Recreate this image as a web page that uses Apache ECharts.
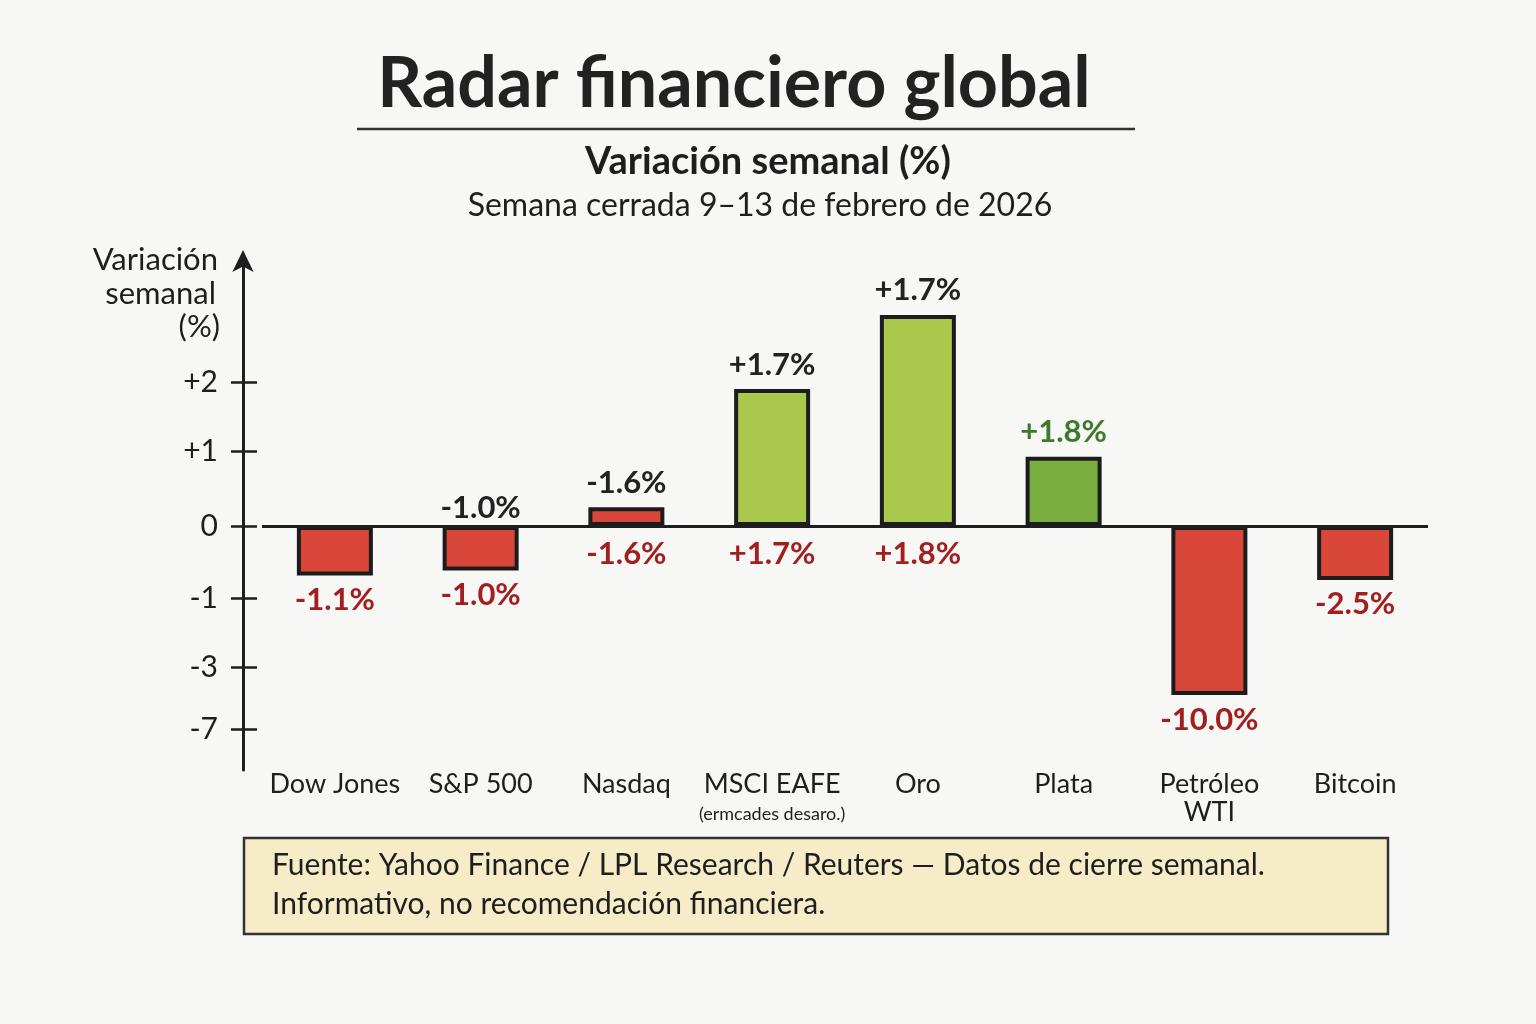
<!DOCTYPE html>
<html><head><meta charset="utf-8">
<script src="https://cdn.jsdelivr.net/npm/echarts@6/dist/echarts.min.js"></script>
<style>html,body{margin:0;padding:0;background:#f7f7f5;}#c{width:1536px;height:1024px;}</style>
</head><body><div id="c"></div>
<script>
// categories
const categories = ['Dow Jones', 'S&P 500', 'Nasdaq', 'MSCI EAFE', 'Oro', 'Plata', 'Petróleo\nWTI', 'Bitcoin'];
const categoryNotes = ['', '', '', '(ermcades desaro.)', '', '', '', ''];
// bar heights as drawn on the (hand-drawn) vertical scale
const barHeights = [-0.69, -0.62, 0.26, 1.90, 2.93, 0.96, -2.35, -0.75];
// labels written above / below each bar
const topLabels = ['', '-1.0%', '-1.6%', '+1.7%', '+1.7%', '+1.8%', '', ''];
const bottomLabels = ['-1.1%', '-1.0%', '-1.6%', '+1.7%', '+1.8%', '', '-10.0%', '-2.5%'];
// y-axis ticks: positions on the drawn scale and their printed labels
const tickPositions = [2, 1.03, 0, -1.0, -1.97, -2.83];
const tickLabels = ['+2', '+1', '0', '-1', '-3', '-7'];
// bar colour groups
const barColors = ['#d8473a', '#d8473a', '#d8473a', '#a9c84c', '#a9c84c', '#79ae3f', '#d8473a', '#d8473a'];
const topLabelColors = ['#222', '#222', '#222', '#222', '#222', '#3f7a2c', '#222', '#222'];

const FONT = 'Lato';
const RED_TXT = '#a21f1f';
const chart = echarts.init(document.getElementById('c'));

const barData = barHeights.map((v, i) => {
  const pos = v >= 0;
  const txt = pos ? topLabels[i] : bottomLabels[i];
  return {
    value: v,
    itemStyle: { color: barColors[i] },
    label: {
      show: !!txt, position: pos ? 'top' : 'bottom', distance: pos ? 9 : 9,
      formatter: txt, color: pos ? topLabelColors[i] : RED_TXT
    }
  };
});
// extra labels that sit on the zero line, on the side opposite to the bar
const extraData = barHeights.map((v, i) => {
  if (v >= 0 && bottomLabels[i]) return { value: 0, label: { show: true, position: 'bottom', distance: 13, formatter: bottomLabels[i], color: RED_TXT } };
  if (v < 0 && topLabels[i]) return { value: 0, label: { show: true, position: 'top', distance: 2, formatter: topLabels[i], color: '#222' } };
  return { value: 0, label: { show: false } };
});

const labelStyle = { fontFamily: FONT, fontSize: 31, fontWeight: 'bold' };

chart.setOption({
  backgroundColor: '#f7f7f5',
  textStyle: { fontFamily: FONT },
  grid: { left: 262, right: 108, top: 258, bottom: 254 },
  xAxis: {
    type: 'category', data: categories,
    axisLine: { show: false, onZero: false }, axisTick: { show: false },
    axisLabel: {
      margin: 0, interval: 0,
      formatter: (v, i) => categoryNotes[i] ? '{m|' + v + '}\n{s|' + categoryNotes[i] + '}' : '{m|' + v + '}',
      rich: {
        m: { fontFamily: FONT, fontSize: 27, color: '#1e1e1e', lineHeight: 28 },
        s: { fontFamily: FONT, fontSize: 18, color: '#1e1e1e', lineHeight: 32 }
      }
    }
  },
  yAxis: [{
    type: 'value', min: -3.39, max: 3.72, offset: 19,
    splitLine: { show: false },
    axisLine: { show: true, lineStyle: { color: '#1e1e1e', width: 3 }, symbol: ['none', 'arrow'], symbolSize: [16, 22], symbolOffset: [0, 8] },
    axisTick: { show: true, customValues: tickPositions, length: 12, lineStyle: { color: '#1e1e1e', width: 2.5 } },
    axisLabel: {
      customValues: tickPositions, margin: 25, fontFamily: FONT, fontSize: 30, color: '#1e1e1e',
      formatter: v => { const k = tickPositions.findIndex(t => Math.abs(t - v) < 1e-6); return k >= 0 ? tickLabels[k] : ''; }
    }
  }, {
    type: 'value', min: -3.39, max: 3.72, position: 'left', offset: 19,
    splitLine: { show: false }, axisLine: { show: false }, axisLabel: { show: false },
    axisTick: { show: true, inside: true, customValues: tickPositions, length: 14, lineStyle: { color: '#1e1e1e', width: 2.5 } }
  }],
  series: [{
    type: 'bar', data: barData, barWidth: 76,
    itemStyle: { borderColor: '#1c1c1c', borderWidth: 4 },
    label: labelStyle,
    markLine: {
      silent: true, symbol: ['none', 'none'], label: { show: false },
      lineStyle: { color: '#1e1e1e', width: 3, type: 'solid' },
      data: [{ yAxis: 0 }]
    },
    z: 3
  }, {
    type: 'bar', data: extraData, barWidth: 76, barGap: '-100%',
    itemStyle: { color: 'rgba(0,0,0,0)', borderWidth: 0 },
    label: labelStyle, silent: true, z: 4
  }],
  graphic: [
    { type: 'text', x: 734, y: 84, style: { text: 'Radar financiero global', font: 'bold 70px ' + FONT, fill: '#222', textAlign: 'center', textVerticalAlign: 'middle' } },
    { type: 'line', shape: { x1: 357, y1: 129, x2: 1135, y2: 129 }, style: { stroke: '#333', lineWidth: 2.5 } },
    { type: 'text', x: 768, y: 162, style: { text: 'Variación semanal (%)', font: 'bold 38px ' + FONT, fill: '#1e1e1e', textAlign: 'center', textVerticalAlign: 'middle' } },
    { type: 'text', x: 760, y: 206, style: { text: 'Semana cerrada 9–13 de febrero de 2026', font: '32px ' + FONT, fill: '#1e1e1e', textAlign: 'center', textVerticalAlign: 'middle' } },
    { type: 'text', x: 218, y: 260, style: { text: 'Variación', font: '31px ' + FONT, fill: '#1e1e1e', textAlign: 'right', textVerticalAlign: 'middle' } },
    { type: 'text', x: 216, y: 294, style: { text: 'semanal', font: '31px ' + FONT, fill: '#1e1e1e', textAlign: 'right', textVerticalAlign: 'middle' } },
    { type: 'text', x: 220, y: 327, style: { text: '(%)', font: '31px ' + FONT, fill: '#1e1e1e', textAlign: 'right', textVerticalAlign: 'middle' } },
    { type: 'rect', shape: { x: 244, y: 838, width: 1144, height: 96 }, style: { fill: '#f6ecc8', stroke: '#333', lineWidth: 2.5 } },
    { type: 'text', x: 272, y: 865, style: { text: 'Fuente: Yahoo Finance / LPL Research / Reuters — Datos de cierre semanal.', font: '30px ' + FONT, fill: '#1e1e1e', textVerticalAlign: 'middle' } },
    { type: 'text', x: 272, y: 904, style: { text: 'Informativo, no recomendación financiera.', font: '30px ' + FONT, fill: '#1e1e1e', textVerticalAlign: 'middle' } }
  ]
});
</script></body></html>
